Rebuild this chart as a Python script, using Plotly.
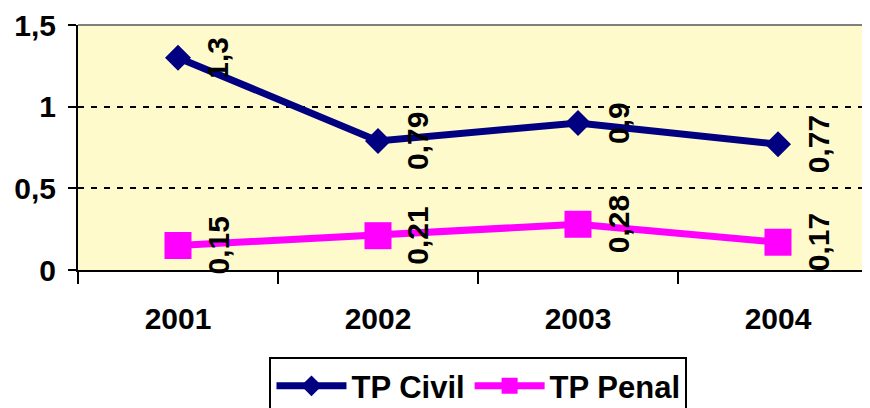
import plotly.graph_objects as go

years = ["2001", "2002", "2003", "2004"]
tp_civil = [1.3, 0.79, 0.9, 0.77]
tp_penal = [0.15, 0.21, 0.28, 0.17]
civil_labels = ["1,3", "0,79", "0,9", "0,77"]
penal_labels = ["0,15", "0,21", "0,28", "0,17"]
y_ticks = [0, 0.5, 1, 1.5]
y_ticktext = ["0", "0,5", "1", "1,5"]

FONT = "Liberation Sans"

fig = go.Figure()
fig.add_trace(go.Scatter(
    x=years, y=tp_civil, name="TP Civil", mode="lines+markers",
    line=dict(color="#000080", width=7),
    marker=dict(symbol="diamond", size=20, color="#000080"),
))
fig.add_trace(go.Scatter(
    x=years, y=tp_penal, name="TP Penal", mode="lines+markers",
    line=dict(color="#FF00FF", width=7),
    marker=dict(symbol="square", size=27, color="#FF00FF"),
))

annotations = []
for ys, labs in [(tp_civil, civil_labels), (tp_penal, penal_labels)]:
    for i, (y, t) in enumerate(zip(ys, labs)):
        annotations.append(dict(
            x=i, xref="x", y=y, yref="y", text=t, showarrow=False, textangle=-90,
            xshift=40, font=dict(family=FONT, size=30, color="black", weight="bold"),
        ))

fig.update_layout(
    width=862, height=400,
    margin=dict(l=70, r=0, t=17, b=138),
    paper_bgcolor="white",
    plot_bgcolor="#FFFACC",
    font=dict(family=FONT, color="black", weight="bold"),
    showlegend=True,
    legend=dict(
        orientation="h", xref="container", yref="container",
        x=0.5458, xanchor="center", y=0.127, yanchor="top",
        bordercolor="black", borderwidth=2, bgcolor="white",
        font=dict(family=FONT, size=31, color="black", weight="bold"),
        itemwidth=70, tracegroupgap=0, itemsizing="trace",
    ),
    xaxis=dict(
        type="category", range=[-0.5, 3.46], tickson="boundaries",
        ticks="outside", ticklen=12, tickwidth=2, tickcolor="black",
        showline=True, linecolor="black", linewidth=2,
        showgrid=False, zeroline=False, ticklabelstandoff=21,
        tickfont=dict(family=FONT, size=30, color="black", weight="bold"),
    ),
    yaxis=dict(
        range=[0, 1.5], tickvals=y_ticks, ticktext=y_ticktext,
        ticks="outside", ticklen=8, tickwidth=2, tickcolor="black",
        showline=True, linecolor="black", linewidth=2,
        showgrid=True, gridcolor="black", griddash="6px,7px", gridwidth=2,
        zeroline=False, ticklabelstandoff=6,
        tickfont=dict(family=FONT, size=30, color="black", weight="bold"),
    ),
    annotations=annotations,
    shapes=[dict(type="line", xref="paper", yref="paper", x0=0, x1=1, y0=1, y1=1,
                 line=dict(color="#808080", width=2))],
)

fig.write_html("out.html")
